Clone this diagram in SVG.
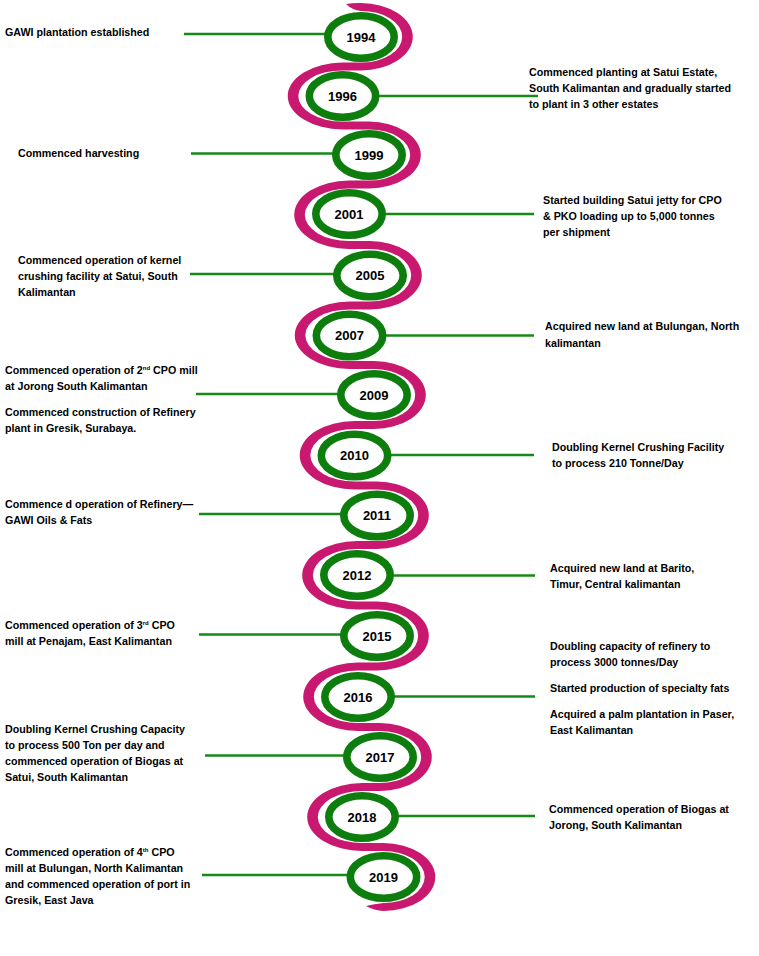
<svg xmlns="http://www.w3.org/2000/svg" width="759" height="956" viewBox="0 0 759 956">
<style>
.lbl{font-family:"Liberation Sans",Arial,sans-serif;font-weight:bold;font-size:10.7px;fill:#000}
.yr{font-family:"Liberation Sans",Arial,sans-serif;font-weight:bold;font-size:13px;fill:#000;text-anchor:middle}
.ring{fill:#fff;stroke:#0d7d0d;stroke-width:7.6}
.conn line{stroke:#168a16;stroke-width:2.5}
.sup{font-size:6px}
</style>
<rect width="759" height="956" fill="#fff"/>
<g id="ribbon">
<path fill="#c8186f" d="M346 4 Q352 3 361 3.1
A51.8 33.65 0 0 1 361 70.4 L342.5 70.4
A44.2 25.6 0 0 0 342.5 121.6 L369 121.6
A51.8 33.4 0 0 1 369 188.4 L349 188.4
A44.2 26.35 0 0 0 349 241.1 L370 241.1
A51.8 34.15 0 0 1 370 309.4 L349.5 309.4
A44.2 25.85 0 0 0 349.5 361.1 L374 361.1
A51.8 33.9 0 0 1 374 428.9 L354.5 428.9
A44.2 26.35 0 0 0 354.5 481.6 L377 481.6
A51.8 33.65 0 0 1 377 548.9 L357 548.9
A44.2 26.35 0 0 0 357 601.6 L377 601.6
A51.8 34.4 0 0 1 377 670.4 L358 670.4
A44.2 26.35 0 0 0 358 723.1 L380 723.1
A51.8 33.9 0 0 1 380 790.9 L362 790.9
A44.2 26.1 0 0 0 362 843.1 L383.5 843.1
A51.8 33.9 0 0 1 383.5 910.9
Q374 910.5 366 906 Q374 904 383.5 903.1
A41.2 26.1 0 0 0 383.5 850.9 L362 850.9
A54.8 33.9 0 0 1 362 783.1 L380 783.1
A41.2 26.1 0 0 0 380 730.9 L358 730.9
A54.8 34.15 0 0 1 358 662.6 L377 662.6
A41.2 26.6 0 0 0 377 609.4 L357 609.4
A54.8 34.15 0 0 1 357 541.1 L377 541.1
A41.2 25.85 0 0 0 377 489.4 L354.5 489.4
A54.8 34.15 0 0 1 354.5 421.1 L374 421.1
A41.2 26.1 0 0 0 374 368.9 L349.5 368.9
A54.8 33.65 0 0 1 349.5 301.6 L370 301.6
A41.2 26.35 0 0 0 370 248.9 L349 248.9
A54.8 34.15 0 0 1 349 180.6 L369 180.6
A41.2 25.6 0 0 0 369 129.4 L342.5 129.4
A54.8 33.4 0 0 1 342.5 62.6 L361 62.6
A41.2 25.85 0 0 0 361 10.9
Q352 10 346 4 Z"/>
</g>
<g class="conn" id="connectors">
<line x1="184" y1="34" x2="325" y2="34"/>
<line x1="379" y1="96" x2="538" y2="96"/>
<line x1="191" y1="153.5" x2="333" y2="153.5"/>
<line x1="385" y1="214" x2="534" y2="214"/>
<line x1="190" y1="274" x2="334" y2="274"/>
<line x1="386" y1="335.5" x2="534" y2="335.5"/>
<line x1="196" y1="394" x2="338" y2="394"/>
<line x1="391" y1="455" x2="534" y2="455"/>
<line x1="199" y1="514" x2="341" y2="514"/>
<line x1="393" y1="575.5" x2="535" y2="575.5"/>
<line x1="199" y1="634.5" x2="341" y2="634.5"/>
<line x1="394" y1="696.5" x2="535" y2="696.5"/>
<line x1="205" y1="755.5" x2="344" y2="755.5"/>
<line x1="398" y1="816" x2="535" y2="816"/>
<line x1="202" y1="875" x2="347" y2="875"/>
</g>
<g id="n1994"><ellipse class="ring" cx="361" cy="37" rx="33.2" ry="21.2"/><text class="yr" x="361" y="41.5">1994</text>
<text class="lbl" x="5" y="36">GAWI plantation established</text></g>
<g id="n1996"><ellipse class="ring" cx="342.5" cy="96" rx="33.2" ry="21.2"/><text class="yr" x="342.5" y="100.5">1996</text>
<text class="lbl" x="529" y="76">Commenced planting at Satui Estate,</text>
<text class="lbl" x="529" y="92">South Kalimantan and gradually started</text>
<text class="lbl" x="529" y="108">to plant in 3 other estates</text></g>
<g id="n1999"><ellipse class="ring" cx="369" cy="155" rx="33.2" ry="21.2"/><text class="yr" x="369" y="159.5">1999</text>
<text class="lbl" x="18" y="157">Commenced harvesting</text></g>
<g id="n2001"><ellipse class="ring" cx="349" cy="214" rx="33.2" ry="21.2"/><text class="yr" x="349" y="218.5">2001</text>
<text class="lbl" x="543" y="204">Started building Satui jetty for CPO</text>
<text class="lbl" x="543" y="220">&amp; PKO loading up to 5,000 tonnes</text>
<text class="lbl" x="543" y="236">per shipment</text></g>
<g id="n2005"><ellipse class="ring" cx="370" cy="275.5" rx="33.2" ry="21.2"/><text class="yr" x="370" y="280">2005</text>
<text class="lbl" x="18" y="264">Commenced operation of kernel</text>
<text class="lbl" x="18" y="280">crushing facility at Satui, South</text>
<text class="lbl" x="18" y="296">Kalimantan</text></g>
<g id="n2007"><ellipse class="ring" cx="349.5" cy="335.5" rx="33.2" ry="21.2"/><text class="yr" x="349.5" y="340">2007</text>
<text class="lbl" x="545" y="330">Acquired new land at Bulungan, North</text>
<text class="lbl" x="545" y="347">kalimantan</text></g>
<g id="n2009"><ellipse class="ring" cx="374" cy="395" rx="33.2" ry="21.2"/><text class="yr" x="374" y="399.5">2009</text>
<text class="lbl" x="5" y="374">Commenced operation of 2<tspan class="sup" dy="-4">nd</tspan><tspan dy="4"> CPO mill</tspan></text>
<text class="lbl" x="5" y="390">at Jorong South Kalimantan</text>
<text class="lbl" x="5" y="416">Commenced construction of Refinery</text>
<text class="lbl" x="5" y="432">plant in Gresik, Surabaya.</text></g>
<g id="n2010"><ellipse class="ring" cx="354.5" cy="455.5" rx="33.2" ry="21.2"/><text class="yr" x="354.5" y="460">2010</text>
<text class="lbl" x="552" y="451">Doubling Kernel Crushing Facility</text>
<text class="lbl" x="552" y="467">to process 210 Tonne/Day</text></g>
<g id="n2011"><ellipse class="ring" cx="377" cy="515.5" rx="33.2" ry="21.2"/><text class="yr" x="377" y="520">2011</text>
<text class="lbl" x="5" y="508">Commence d operation of Refinery—</text>
<text class="lbl" x="5" y="524">GAWI Oils &amp; Fats</text></g>
<g id="n2012"><ellipse class="ring" cx="357" cy="575" rx="33.2" ry="21.2"/><text class="yr" x="357" y="579.5">2012</text>
<text class="lbl" x="550" y="572">Acquired new land at Barito,</text>
<text class="lbl" x="550" y="588">Timur, Central kalimantan</text></g>
<g id="n2015"><ellipse class="ring" cx="377" cy="636" rx="33.2" ry="21.2"/><text class="yr" x="377" y="640.5">2015</text>
<text class="lbl" x="5" y="629">Commenced operation of 3<tspan class="sup" dy="-4">rd</tspan><tspan dy="4"> CPO</tspan></text>
<text class="lbl" x="5" y="645">mill at Penajam, East Kalimantan</text></g>
<g id="n2016"><ellipse class="ring" cx="358" cy="697" rx="33.2" ry="21.2"/><text class="yr" x="358" y="701.5">2016</text>
<text class="lbl" x="550" y="650">Doubling capacity of refinery to</text>
<text class="lbl" x="550" y="666">process 3000 tonnes/Day</text>
<text class="lbl" x="550" y="692">Started production of specialty fats</text>
<text class="lbl" x="550" y="718">Acquired a palm plantation in Paser,</text>
<text class="lbl" x="550" y="734">East Kalimantan</text></g>
<g id="n2017"><ellipse class="ring" cx="380" cy="757" rx="33.2" ry="21.2"/><text class="yr" x="380" y="761.5">2017</text>
<text class="lbl" x="5" y="733">Doubling Kernel Crushing Capacity</text>
<text class="lbl" x="5" y="749">to process 500 Ton per day and</text>
<text class="lbl" x="5" y="765">commenced operation of Biogas at</text>
<text class="lbl" x="5" y="781">Satui, South Kalimantan</text></g>
<g id="n2018"><ellipse class="ring" cx="362" cy="817" rx="33.2" ry="21.2"/><text class="yr" x="362" y="821.5">2018</text>
<text class="lbl" x="549" y="813">Commenced operation of Biogas at</text>
<text class="lbl" x="549" y="829">Jorong, South Kalimantan</text></g>
<g id="n2019"><ellipse class="ring" cx="383.5" cy="877" rx="33.2" ry="21.2"/><text class="yr" x="383.5" y="881.5">2019</text>
<text class="lbl" x="5" y="856">Commenced operation of 4<tspan class="sup" dy="-4">th</tspan><tspan dy="4"> CPO</tspan></text>
<text class="lbl" x="5" y="872">mill at Bulungan, North Kalimantan</text>
<text class="lbl" x="5" y="888">and commenced operation of port in</text>
<text class="lbl" x="5" y="904">Gresik, East Java</text></g>
</svg>
